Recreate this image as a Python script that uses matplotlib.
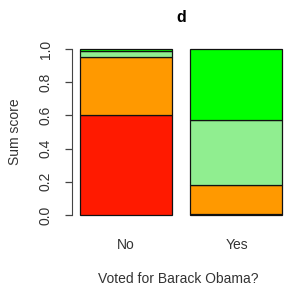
import matplotlib
matplotlib.use("Agg")
import matplotlib.pyplot as plt
import numpy as np

categories = ["No", "Yes"]
levels = ["red", "orange", "lightgreen", "green"]
values = {
    "red":        [0.600, 0.005],
    "orange":     [0.355, 0.175],
    "lightgreen": [0.035, 0.395],
    "green":      [0.010, 0.425],
}
colors = {"red": "#FF1A00", "orange": "#FF9900", "lightgreen": "#90EE90", "green": "#00FF00"}
title = "d"
xlabel = "Voted for Barack Obama?"
ylabel = "Sum score"
yticks = [0.0, 0.2, 0.4, 0.6, 0.8, 1.0]

plt.rcParams['font.family'] = ['Liberation Sans', 'DejaVu Sans']
W, H = 285, 290
fs = 10
fig = plt.figure(figsize=(W/100, H/100), dpi=100)
ax = fig.add_axes([72/W, (H-221.6)/H, (285-72)/W, (221.6-42.4)/H])

x = np.array([0.7, 1.9])
bottom = np.zeros(2)
for lv in levels:
    v = np.array(values[lv])
    ax.bar(x, v, width=1.0, bottom=bottom, color=colors[lv], edgecolor="#111111", linewidth=0.9)
    bottom += v

ax.set_xlim(0.112, 0.112 + 213/92)
ax.set_ylim(-0.04, 1.04)
for s in ["top", "right", "bottom"]:
    ax.spines[s].set_visible(False)
ax.spines["left"].set_bounds(0, 1)
ax.spines["left"].set_color("#444444")
ax.set_yticks(yticks)
ax.set_yticklabels([f"{t:.1f}" for t in yticks], rotation=90, va="center", fontsize=fs, color="#333333")
ax.tick_params(axis="y", length=5, width=0.9, color="#444444", pad=9)
ax.set_xticks(x)
ax.set_xticklabels(categories, fontsize=fs, color="#333333")
ax.tick_params(axis="x", length=0, pad=12)
ax.set_xlabel(xlabel, fontsize=fs, color="#333333", labelpad=14)
ax.set_ylabel(ylabel, fontsize=fs, color="#333333", labelpad=12)
fig.text(181/W, 1 - 17/H, title, fontsize=11.5, fontweight="bold", ha="center", va="center")
fig.savefig("out.png", dpi=100)
